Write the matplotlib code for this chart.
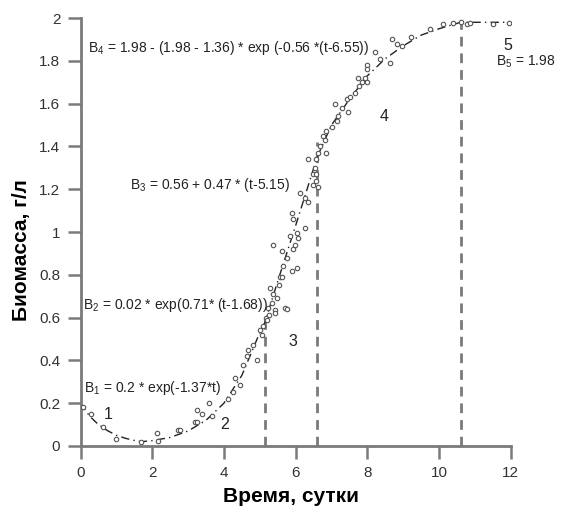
import matplotlib
matplotlib.use("Agg")
import matplotlib.pyplot as plt

plt.rcParams['font.family'] = ['Liberation Sans', 'DejaVu Sans']
plt.rcParams['mathtext.fontset'] = 'custom'
plt.rcParams['mathtext.rm'] = 'Liberation Sans'
plt.rcParams['mathtext.it'] = 'Liberation Sans'

# measured biomass points (time, biomass)
obs_t = [0.07, 0.3, 0.63, 1.0, 1.69, 2.13, 2.15, 2.72, 2.77, 3.19, 3.24, 3.24, 3.4, 3.58, 3.68,
         4.1, 4.25, 4.3, 4.44, 4.53, 4.64, 4.67, 4.8, 4.92, 5.0, 5.05, 5.08, 5.17, 5.19, 5.23,
         5.25, 5.28, 5.33, 5.37, 5.37, 5.42, 5.42, 5.47, 5.53, 5.56, 5.61, 5.61, 5.64, 5.70,
         5.75, 5.75, 5.84, 5.89, 5.90, 5.92, 5.92, 5.97, 6.03, 6.03, 6.06, 6.11, 6.26, 6.26,
         6.34, 6.34, 6.48, 6.48, 6.53, 6.58, 6.58, 6.58, 6.62, 6.62, 6.67, 6.76, 6.81, 6.86,
         6.86, 7.0, 7.09, 7.14, 7.17, 7.28, 7.42, 7.45, 7.51, 7.65, 7.73, 7.78, 7.84, 7.93,
         7.98, 8.0, 8.0, 8.2, 8.34, 8.62, 8.7, 8.84, 8.96, 9.23, 9.74, 10.1, 10.4, 10.6,
         10.77, 10.85, 11.5, 11.96]
obs_b = [0.18, 0.15, 0.09, 0.033, 0.02, 0.06, 0.023, 0.075, 0.075, 0.11, 0.17, 0.11, 0.15, 0.20, 0.14,
         0.22, 0.25, 0.32, 0.285, 0.38, 0.42, 0.45, 0.47, 0.40, 0.54, 0.52, 0.56, 0.60, 0.59, 0.645,
         0.61, 0.74, 0.67, 0.94, 0.71, 0.635, 0.62, 0.69, 0.75, 0.79, 0.79, 0.91, 0.84, 0.645,
         0.88, 0.64, 0.98, 1.09, 0.82, 1.06, 0.92, 0.94, 0.995, 0.83, 0.97, 1.18, 1.16, 1.02,
         1.14, 1.34, 1.27, 1.22, 1.30, 1.27, 1.34, 1.24, 1.21, 1.37, 1.40, 1.45, 1.43, 1.47,
         1.37, 1.49, 1.60, 1.52, 1.54, 1.58, 1.62, 1.56, 1.63, 1.65, 1.72, 1.68, 1.70, 1.72,
         1.78, 1.76, 1.70, 1.84, 1.81, 1.79, 1.90, 1.88, 1.87, 1.91, 1.95, 1.97, 1.975, 1.98,
         1.97, 1.975, 1.97, 1.975]

# model curve (time, biomass)
fit_t = [0.0, 0.25, 0.5, 0.75, 1.0, 1.25, 1.5, 1.7, 2.0, 2.5, 3.0, 3.5, 4.0, 4.5, 5.0, 5.15,
         5.5, 6.0, 6.6, 7.0, 7.5, 8.0, 8.5, 9.0, 9.5, 10.0, 10.6, 11.0, 12.0]
fit_b = [0.2, 0.14, 0.10, 0.072, 0.05, 0.036, 0.026, 0.02, 0.025, 0.04, 0.07, 0.12, 0.20, 0.33,
         0.53, 0.58, 0.77, 1.03, 1.35, 1.50, 1.62, 1.73, 1.81, 1.87, 1.92, 1.95, 1.98, 1.98, 1.98]

# phase boundaries and their heights
bound_t = [5.15, 6.6, 10.6]
bound_b = [0.6, 1.42, 2.0]

x_ticks = [0, 2, 4, 6, 8, 10, 12]
y_ticks = [0, 0.2, 0.4, 0.6, 0.8, 1, 1.2, 1.4, 1.6, 1.8, 2]
y_ticklabels = ['0', '0.2', '0.4', '0.6', '0.8', '1', '1.2', '1.4', '1.6', '1.8', '2']

fig = plt.figure(figsize=(5.61, 5.09), dpi=100)
ax = fig.add_axes([0.1435, 0.1238, 0.767, 0.8408])

gray = '#7a7a7a'
ax.vlines(bound_t, 0, bound_b, colors=gray, linewidth=2.0, linestyles=(0, (3.5, 2.5)), zorder=1)
ax.plot(fit_t, fit_b, color='#222222', linewidth=1.0, linestyle=(0, (6, 3, 1, 3)), zorder=2)
ax.plot(obs_t, obs_b, linestyle='none', marker='o', markersize=3.2, mfc='white',
        mec='#555555', mew=0.8, zorder=3)

ax.set_xlim(0, 12)
ax.set_ylim(0, 2)
ax.set_xticks(x_ticks)
ax.set_yticks(y_ticks)
ax.set_yticklabels(y_ticklabels)
for s in ['top', 'right']:
    ax.spines[s].set_visible(False)
for s in ['left', 'bottom']:
    ax.spines[s].set_color(gray)
    ax.spines[s].set_linewidth(2.0)
ax.tick_params(axis='both', direction='out', length=9.5, width=1.8, color=gray,
               labelsize=11, labelcolor='#333333', pad=5)

ax.set_xlabel('Время, сутки', fontsize=15, fontweight='bold')
ax.set_ylabel('Биомасса, г/л', fontsize=15, fontweight='bold')
ax.xaxis.set_label_coords(0.49, -0.096)
ax.yaxis.set_label_coords(-0.116, 0.458)

fs = 10
kw = dict(fontsize=fs, color='#222222', va='center', ha='left', clip_on=False)
ax.text(0.2, 1.86, r'B$_{4}$ = 1.98 - (1.98 - 1.36) * exp (-0.56 *(t-6.55))', **kw)
ax.text(1.38, 1.22, r'B$_{3}$ = 0.56 + 0.47 * (t-5.15)', **kw)
ax.text(0.07, 0.66, r'B$_{2}$ = 0.02 * exp(0.71* (t-1.68))', **kw)
ax.text(0.1, 0.27, r'B$_{1}$ = 0.2 * exp(-1.37*t)', **kw)
ax.text(11.6, 1.795, r'B$_{5}$ = 1.98', **kw)

nkw = dict(fontsize=11.5, color='#222222', va='center', ha='center')
ax.text(11.93, 1.87, '5', **nkw)
ax.text(8.48, 1.54, '4', **nkw)
ax.text(5.92, 0.49, '3', **nkw)
ax.text(4.03, 0.10, '2', **nkw)
ax.text(0.77, 0.145, '1', **nkw)

fig.savefig('out.png', dpi=100)
